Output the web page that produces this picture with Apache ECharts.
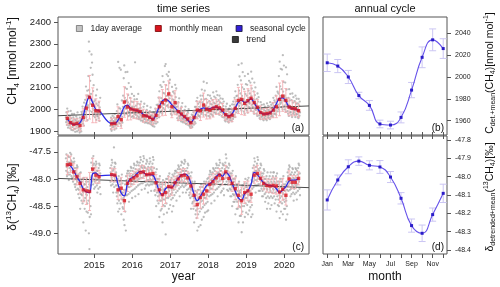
<!DOCTYPE html>
<html><head><meta charset="utf-8">
<script src="https://cdn.jsdelivr.net/npm/echarts@6/dist/echarts.min.js"></script>
<style>html,body{margin:0;padding:0;background:#fff}#c{width:500px;height:287px}</style>
</head><body><div id="c"></div>
<script>
// ---------- DATA ----------
// monthly series start at April 2014 (index 0) and run to May 2020
const startYear = 2014, startMonth = 4;
const yearTicks = [2015, 2016, 2017, 2018, 2019, 2020];
const ch4Ticks = [1900, 2000, 2100, 2200, 2300, 2400];
const d13Ticks = [-47.5, -48.0, -48.5, -49.0];
const annCH4Ticks = [1960, 1980, 2000, 2020, 2040];
const annD13Ticks = [-47.8, -47.9, -48.0, -48.1, -48.2, -48.3, -48.4];
const monthNames = ['Jan','Feb','Mar','Apr','May','Jun','Jul','Aug','Sep','Oct','Nov','Dec'];
const monthTicks = [1,2,3,4,5,6,7,8,9,10,11,12];
const monthLabelTicks = [1,3,5,7,9,11];

const ch4Mean = [
1958,1938,1931,1935,1925,1962,2005,2055,2018,
1993,1992,null,null,null,1933,1935,1966,1952,2033,2010,2001,
1997,1995,1989,1970,1969,1962,1954,1972,2011,2030,2042,2070,
2011,2030,1989,1978,1966,1955,1938,1962,1996,1993,2019,2000,
1996,2004,2011,2006,1996,1975,1966,1973,2004,2040,2045,2027,
2039,2050,2030,2009,1985,1978,1980,1983,1996,2011,2045,2060,
2040,2010,2004,2002,1993];
const ch4Err = [
30,25,25,22,25,40,60,100,80,
55,45,null,null,null,25,25,45,40,70,60,50,
40,40,35,30,25,25,25,30,45,60,70,60,
50,55,40,30,25,25,25,30,40,45,55,45,
40,40,35,30,30,25,25,30,40,60,70,55,
55,60,50,35,30,25,25,25,35,50,75,70,
55,40,35,30,30];
const ch4Seas = [
1956,1938,1930,1930,1938,1970,2025,2057,2030,
1998,1993,null,null,null,1935,1935,1950,1978,2012,2018,2003,
1997,1994,1988,1976,1968,1962,1953,1976,2012,2038,2045,2038,
2020,2006,1990,1976,1964,1950,1938,1960,1990,2000,2006,2001,
2003,2008,2010,2002,1990,1975,1968,1978,2005,2032,2042,2030,
2036,2048,2028,2005,1985,1978,1978,1983,1998,2025,2050,2052,
2036,2010,2004,2000,1995];
const trendYears = [2014.045, 2020.65];
const ch4Trend = [1970, 2015];

const d13Mean = [
-47.74,-47.73,-47.87,-47.96,-48.08,-48.20,-48.22,-48.23,-47.82,
-47.93,-47.96,null,null,null,-47.92,-47.93,-48.20,-48.17,-48.40,-48.08,-48.02,
-47.98,-47.94,-47.88,-47.87,-47.92,-47.91,-47.90,-48.07,-48.20,-48.29,-48.25,-48.14,
-48.15,-48.07,-48.00,-47.94,-47.93,-47.98,-48.13,-48.30,-48.47,-48.34,-48.28,-48.22,
-48.10,-48.05,-47.98,-47.93,-47.99,-47.87,-47.99,-48.08,-48.18,-48.30,-48.40,-48.25,
-48.22,-48.28,-47.93,-47.90,-47.99,-48.08,-48.12,-48.13,-48.12,-48.13,-48.24,-48.19,
-48.30,-48.00,-48.06,-48.06,-47.99];
const d13Err = [
0.18,0.15,0.15,0.15,0.18,0.22,0.25,0.35,0.20,
0.15,0.12,null,null,null,0.12,0.12,0.18,0.20,0.20,0.15,0.12,
0.12,0.12,0.12,0.12,0.12,0.12,0.12,0.15,0.20,0.22,0.20,0.18,
0.15,0.12,0.12,0.12,0.12,0.12,0.15,0.20,0.25,0.20,0.18,0.15,
0.15,0.15,0.12,0.12,0.12,0.12,0.12,0.15,0.20,0.22,0.25,0.20,
0.18,0.15,0.15,0.15,0.12,0.12,0.12,0.12,0.15,0.15,0.20,0.20,
0.18,0.15,0.12,0.12,0.12];
const d13Seas = [
-47.74,-47.76,-47.85,-47.96,-48.05,-48.18,-48.24,-48.25,-47.90,
-47.89,-47.94,null,null,null,-47.93,-47.93,-48.10,-48.26,-48.31,-48.08,-47.99,
-47.96,-47.90,-47.86,-47.88,-47.92,-47.92,-47.93,-48.05,-48.22,-48.30,-48.18,-48.15,
-48.16,-48.07,-47.99,-47.93,-47.91,-47.94,-48.08,-48.28,-48.40,-48.32,-48.22,-48.12,
-48.09,-48.03,-47.96,-47.91,-47.95,-47.88,-47.93,-48.08,-48.22,-48.35,-48.39,-48.27,
-48.22,-48.10,-47.88,-47.92,-48.00,-48.07,-48.11,-48.12,-48.13,-48.18,-48.25,-48.20,
-48.14,-48.04,-48.02,-48.02,-47.99];
const d13Trend = [-47.99, -48.16];

const ch4Daily = [
[1962,1940,1985,1951,1928,2003,1947,1972,1915,1990,1956,1935],
[1925,1952,1936,1969,1912,1946,1992,1931,1958,1905,1941,1978],
[1918,1934,1947,1903,1962,1924,1941,1978,1910,1952,1929,1896],
[1931,1911,1949,1966,1922,1939,1898,1957,1985,1927,1944,1915],
[1904,1931,1917,1944,1893,1961,1926,1936,1910,1952,1898,1988],
[1942,1981,1953,2012,1966,1933,1991,1949,1925,2030,1958,1975],
[1976,2043,2008,1988,2104,1963,2027,2062,1995,2085,1950,2018],
[2062,2152,2008,2310,2088,2265,1992,2051,2130,2025,2190,2070],
[2041,2251,1988,2214,2021,2158,2002,2083,1970,2110,2035,1995],
[1982,2012,1963,2042,1994,1973,2063,1951,2025,1985,2090,1968],
[1991,1968,2017,1983,1959,2031,1997,1946,2008,1975,2052,1988],
[],[],[],
[1924,1946,1909,1961,1931,1901,1952,1937,1918,1970,1928,1945],
[1936,1919,1962,1944,1906,1977,1929,1951,1925,1958,1940,1912],
[1952,1991,1929,2022,1964,1946,2217,1974,1938,2005,1958,2190],
[1959,1934,2002,1951,2181,1924,1976,1944,2040,1965,1938,1992],
[2011,2062,1989,2142,2028,2201,1974,2052,2098,2005,2170,2035],
[2002,2041,1979,2093,2013,2171,1988,2031,2065,1968,2120,2008],
[1989,2022,1973,2052,2006,1984,2102,1996,2035,1965,2070,2012],
[1984,2006,1968,2032,1996,1963,2061,2011,2045,1978,2215,1992],
[1991,1974,2016,1959,2001,2046,1984,1969,2025,1988,2070,1955],
[1981,1963,2002,1989,1954,2022,1974,2006,1948,2035,1992,1970],
[1961,1981,1948,1992,1944,1976,2011,1964,1955,2025,1972,1938],
[1954,1976,1944,1986,1966,1939,1997,1969,2015,1950,1982,1935],
[1951,1969,1938,1982,1959,1934,1991,1964,1945,2008,1972,1930],
[1941,1956,1929,1971,1946,1923,1967,1959,1985,1935,1962,1920],
[1954,1981,1944,2002,1966,1934,1992,1974,2020,1958,1985,1940],
[1991,2021,1973,2052,2001,1963,2082,2009,2035,1985,2110,2015],
[2011,2051,1993,2102,2031,1979,2152,2041,2075,2005,2125,2022],
[2021,2072,1998,2198,2046,1989,2207,2061,2110,2035,2160,2015],
[2041,2092,2019,2152,2061,2008,2171,2076,2120,2050,2135,2030],
[1996,2031,1979,2062,2011,1973,2102,2021,2045,1990,2080,2005],
[2001,2042,1984,2072,2019,1988,2112,2031,2055,2010,2095,2025],
[1976,1996,1959,2012,1984,1949,2032,1991,1968,2050,1985,1958],
[1966,1986,1949,2002,1974,1944,2012,1979,1958,2028,1970,1940],
[1954,1976,1944,1987,1964,1938,1997,1961,1950,2012,1970,1932],
[1946,1961,1934,1976,1954,1929,1986,1951,1942,2000,1960,1925],
[1931,1946,1919,1962,1934,1914,1952,1939,1925,1975,1945,1918],
[1946,1971,1934,1987,1959,1929,1992,1956,1942,2010,1965,1935],
[1981,2011,1964,2037,1994,1959,2052,1991,1975,2025,2000,1968],
[1986,2011,1969,2032,1996,1964,2062,2001,1978,2045,1990,2090],
[2001,2031,1984,2062,2011,1974,2126,2021,2045,1995,2085,2010],
[1991,2016,1974,2047,2001,1969,2120,2006,2030,1985,2065,1998],
[1986,2011,1969,2037,1994,1964,2062,2001,2025,1978,2050,1990],
[1991,2021,1974,2042,2006,1969,2077,2011,2030,1985,2058,1998],
[2001,2026,1984,2052,2011,1979,2082,2016,2035,1995,2065,2005],
[1996,2021,1979,2042,2004,1974,2062,2011,2030,1988,2050,1998],
[1986,2006,1969,2027,1994,1964,2047,2001,2015,1978,2035,1990],
[1961,1981,1949,1997,1969,1944,2012,1976,1990,1955,2025,1965],
[1956,1976,1944,1992,1964,1939,2002,1971,1985,1950,2015,1960],
[1961,1986,1949,2002,1974,1944,2022,1969,1995,1955,2035,1965],
[1991,2021,1974,2052,2004,1964,2082,2011,2035,1985,2060,1998],
[2021,2062,1999,2112,2041,1989,2203,2051,2085,2015,2150,2030],
[2026,2072,2004,2132,2051,1994,2210,2061,2100,2020,2170,2040],
[2006,2046,1989,2092,2026,1979,2152,2036,2070,2000,2115,2020],
[2016,2062,1994,2112,2041,1984,2162,2051,2085,2010,2130,2030],
[2026,2072,2004,2122,2051,1994,2172,2061,2095,2020,2140,2040],
[2011,2046,1989,2082,2031,1979,2122,2041,2065,2000,2100,2025],
[1996,2021,1979,2047,2004,1969,2072,2011,2035,1990,2055,2000],
[1971,1991,1959,2012,1981,1954,2032,1986,2000,1965,2020,1975],
[1966,1986,1954,2002,1976,1949,2022,1981,1995,1960,2012,1970],
[1969,1991,1954,2007,1981,1949,2027,1986,1998,1962,2015,1972],
[1971,1996,1959,2012,1986,1954,2032,1991,2005,1965,2020,1975],
[1981,2006,1969,2027,1996,1964,2052,2001,2015,1978,2040,1990],
[1996,2031,1979,2062,2011,1974,2102,2021,2045,1990,2080,2005],
[2021,2072,1999,2152,2046,1989,2218,2061,2105,2025,2185,2040],
[2031,2092,2009,2182,2061,1999,2248,2081,2125,2040,2200,2055],
[2016,2062,1999,2122,2041,1989,2192,2051,2090,2020,2160,2035],
[1991,2021,1979,2052,2006,1969,2092,2016,2040,1985,2070,2000],
[1986,2011,1974,2042,2001,1964,2072,2011,2030,1980,2055,1995],
[1986,2006,1974,2037,1996,1964,2062,2006,2025,1978,2048,1992],
[1976,2001,1964,2027,1991,1959,2047,1996,2015,1970,2035,1985]];

const d13Daily = [
[-47.62,-47.85,-47.55,-47.78,-47.95,-47.68,-47.72,-47.88,-47.58,-47.92,-47.70,-48.02],
[-47.60,-47.80,-47.70,-47.92,-47.52,-47.75,-47.85,-47.66,-47.55,-47.95,-47.68,-48.00],
[-47.75,-47.98,-47.82,-48.05,-47.70,-47.90,-47.62,-47.95,-47.68,-48.10,-47.80,-48.15],
[-47.85,-48.10,-47.90,-48.20,-47.80,-48.02,-47.75,-48.05,-47.78,-48.18,-47.92,-48.28],
[-47.95,-48.20,-48.02,-48.35,-47.90,-48.12,-48.55,-48.15,-47.88,-48.28,-48.05,-48.40],
[-48.05,-48.30,-48.15,-48.45,-48.00,-48.25,-48.80,-48.22,-47.98,-48.40,-48.10,-48.55],
[-48.10,-48.35,-48.18,-48.95,-48.05,-48.28,-48.60,-48.30,-48.00,-48.45,-48.15,-48.62],
[-48.05,-48.40,-48.20,-49.00,-48.10,-49.29,-48.70,-48.35,-47.98,-48.50,-48.12,-48.65],
[-47.70,-47.95,-47.80,-48.05,-47.62,-47.88,-47.75,-48.10,-47.58,-48.00,-47.72,-48.18],
[-47.80,-48.05,-47.88,-48.15,-47.75,-47.98,-47.68,-48.02,-47.72,-48.12,-47.85,-48.25],
[-47.85,-48.08,-47.92,-48.18,-47.80,-48.00,-47.72,-48.05,-47.75,-48.15,-47.90,-48.28],
[],[],[],
[-47.80,-48.05,-47.88,-48.12,-47.75,-47.98,-47.65,-48.02,-47.70,-48.10,-47.85,-48.25],
[-47.82,-48.05,-47.42,-48.15,-47.78,-47.98,-47.70,-48.02,-47.72,-48.12,-47.88,-48.25],
[-48.05,-48.32,-48.12,-48.45,-48.00,-48.25,-48.60,-48.20,-47.95,-48.40,-48.15,-48.55],
[-48.05,-48.30,-48.10,-48.45,-48.00,-48.22,-48.65,-48.25,-47.92,-48.38,-48.08,-48.52],
[-48.25,-48.55,-48.35,-48.75,-48.20,-48.45,-48.85,-48.40,-48.10,-48.60,-48.30,-48.95],
[-47.95,-48.20,-48.02,-48.30,-47.90,-48.12,-47.85,-48.15,-47.85,-48.28,-48.00,-48.42],
[-47.90,-48.15,-47.95,-48.25,-47.85,-48.08,-47.78,-48.10,-47.80,-48.22,-47.95,-48.35],
[-47.85,-48.10,-47.92,-48.20,-47.80,-48.02,-47.72,-48.05,-47.75,-48.18,-47.90,-48.32],
[-47.82,-48.05,-47.88,-48.15,-47.75,-47.98,-47.68,-48.02,-47.70,-48.12,-47.85,-48.28],
[-47.75,-48.00,-47.82,-48.10,-47.70,-47.92,-47.60,-47.98,-47.65,-48.08,-47.78,-48.20],
[-47.75,-47.98,-47.80,-48.08,-47.68,-47.90,-47.58,-47.95,-47.62,-48.05,-47.78,-48.18],
[-47.80,-48.05,-47.85,-48.12,-47.72,-47.95,-47.65,-48.02,-47.68,-48.10,-47.82,-48.25],
[-47.78,-48.02,-47.85,-48.12,-47.72,-47.95,-47.62,-48.00,-47.68,-48.10,-47.82,-48.22],
[-47.78,-48.02,-47.85,-48.10,-47.72,-47.95,-47.60,-48.00,-47.65,-48.08,-47.80,-48.22],
[-47.92,-48.20,-48.00,-48.30,-47.88,-48.10,-48.50,-48.15,-47.82,-48.25,-48.00,-48.40],
[-48.05,-48.32,-48.12,-48.45,-48.00,-48.25,-48.70,-48.30,-47.95,-48.40,-48.10,-48.58],
[-48.15,-48.40,-48.20,-48.55,-48.10,-48.35,-48.80,-48.38,-48.02,-48.48,-48.20,-48.65],
[-48.10,-48.38,-48.18,-48.50,-48.05,-48.30,-49.02,-48.35,-48.00,-48.45,-48.15,-48.62],
[-48.00,-48.25,-48.08,-48.35,-47.95,-48.18,-48.55,-48.22,-47.90,-48.32,-48.05,-48.48],
[-48.02,-48.28,-48.10,-48.38,-47.98,-48.20,-48.60,-48.25,-47.92,-48.35,-48.08,-48.50],
[-47.95,-48.20,-48.02,-48.30,-47.90,-48.12,-47.85,-48.15,-47.85,-48.25,-48.00,-48.40],
[-47.88,-48.12,-47.95,-48.22,-47.82,-48.05,-47.75,-48.08,-47.78,-48.18,-47.92,-48.32],
[-47.82,-48.05,-47.88,-48.15,-47.75,-47.98,-47.68,-48.02,-47.70,-48.12,-47.85,-48.25],
[-47.80,-48.05,-47.85,-48.15,-47.72,-47.98,-47.65,-48.00,-47.68,-48.12,-47.85,-48.25],
[-47.85,-48.10,-47.92,-48.20,-47.80,-48.02,-47.72,-48.05,-47.75,-48.18,-47.90,-48.30],
[-48.00,-48.25,-48.08,-48.35,-47.95,-48.18,-48.55,-48.20,-47.88,-48.32,-48.05,-48.45],
[-48.15,-48.42,-48.22,-48.55,-48.10,-48.35,-48.80,-48.40,-48.05,-48.50,-48.22,-48.65],
[-48.30,-48.58,-48.40,-48.72,-48.25,-48.50,-48.95,-48.55,-48.20,-48.65,-48.35,-48.88],
[-48.20,-48.45,-48.28,-48.60,-48.15,-48.38,-48.85,-48.42,-48.10,-48.55,-48.25,-48.75],
[-48.15,-48.40,-48.22,-48.52,-48.10,-48.32,-48.70,-48.35,-48.05,-48.48,-48.20,-48.62],
[-48.10,-48.35,-48.15,-48.45,-48.05,-48.28,-48.60,-48.30,-48.00,-48.42,-48.12,-48.58],
[-47.98,-48.22,-48.05,-48.32,-47.92,-48.15,-47.85,-48.18,-47.88,-48.30,-48.02,-48.45],
[-47.92,-48.18,-48.00,-48.28,-47.88,-48.10,-47.80,-48.12,-47.82,-48.25,-47.98,-48.40],
[-47.85,-48.10,-47.92,-48.20,-47.80,-48.02,-47.72,-48.05,-47.75,-48.18,-47.90,-48.32],
[-47.80,-48.05,-47.88,-48.15,-47.75,-47.98,-47.65,-48.02,-47.70,-48.12,-47.85,-48.25],
[-47.85,-48.10,-47.92,-48.22,-47.80,-48.02,-47.72,-48.05,-47.75,-48.18,-47.90,-48.30],
[-47.75,-48.00,-47.82,-48.10,-47.70,-47.92,-47.55,-47.98,-47.62,-48.05,-47.78,-48.20],
[-47.85,-48.10,-47.92,-48.22,-47.80,-48.02,-47.72,-48.05,-47.75,-48.18,-47.90,-48.32],
[-47.95,-48.20,-48.02,-48.32,-47.90,-48.12,-48.50,-48.15,-47.85,-48.28,-48.00,-48.42],
[-48.05,-48.30,-48.12,-48.42,-48.00,-48.22,-48.65,-48.28,-47.95,-48.38,-48.10,-48.55],
[-48.15,-48.42,-48.22,-48.55,-48.10,-48.35,-48.80,-48.40,-48.05,-48.50,-48.22,-48.68],
[-48.25,-48.52,-48.32,-48.68,-48.20,-48.45,-48.98,-48.50,-48.12,-48.60,-48.30,-48.80],
[-48.12,-48.38,-48.18,-48.50,-48.08,-48.30,-48.70,-48.35,-48.00,-48.45,-48.15,-48.62],
[-48.08,-48.35,-48.15,-48.48,-48.02,-48.28,-48.65,-48.30,-47.98,-48.42,-48.12,-48.58],
[-48.15,-48.40,-48.22,-48.52,-48.10,-48.32,-48.70,-48.35,-48.02,-48.48,-48.18,-48.65],
[-47.80,-48.05,-47.88,-48.15,-47.75,-47.98,-47.62,-48.02,-47.68,-48.12,-47.85,-48.25],
[-47.78,-48.02,-47.85,-48.12,-47.72,-47.95,-47.60,-48.00,-47.65,-48.10,-47.82,-48.22],
[-47.85,-48.10,-47.92,-48.22,-47.80,-48.02,-47.72,-48.05,-47.75,-48.18,-47.90,-48.32],
[-47.95,-48.22,-48.02,-48.32,-47.90,-48.12,-47.82,-48.18,-47.85,-48.28,-48.00,-48.42],
[-48.00,-48.25,-48.08,-48.35,-47.95,-48.18,-48.55,-48.20,-47.88,-48.32,-48.05,-48.45],
[-48.00,-48.25,-48.08,-48.35,-47.95,-48.18,-48.55,-48.22,-47.88,-48.32,-48.05,-48.48],
[-48.00,-48.25,-48.08,-48.35,-47.95,-48.18,-47.88,-48.20,-47.88,-48.32,-48.05,-48.45],
[-48.00,-48.25,-48.08,-48.38,-47.95,-48.18,-48.60,-48.22,-47.90,-48.32,-48.05,-48.48],
[-48.10,-48.38,-48.18,-48.50,-48.05,-48.30,-48.72,-48.35,-48.00,-48.42,-48.15,-48.60],
[-48.05,-48.32,-48.12,-48.45,-48.00,-48.25,-48.65,-48.28,-47.95,-48.38,-48.10,-48.55],
[-48.15,-48.42,-48.22,-48.55,-48.10,-48.35,-48.75,-48.40,-48.05,-48.50,-48.20,-48.65],
[-47.88,-48.12,-47.95,-48.22,-47.82,-48.05,-47.75,-48.08,-47.78,-48.20,-47.92,-48.32],
[-47.92,-48.18,-48.00,-48.28,-47.88,-48.10,-47.80,-48.12,-47.82,-48.25,-47.98,-48.40],
[-47.92,-48.18,-48.00,-48.28,-47.88,-48.10,-47.80,-48.12,-47.82,-48.25,-47.98,-48.38],
[-47.85,-48.10,-47.92,-48.22,-47.80,-48.02,-47.72,-48.05,-47.75,-48.18,-47.90,-48.30]];

const annCH4 = [2013,2010,2000,1983,1974,1957,1956,1963,1988,2018,2034,2026];
const annCH4Err = [8,6,6,3,4.5,3.5,3.5,5,7,9.5,10,9];
const annD13 = [-48.127,-48.018,-47.946,-47.915,-47.938,-47.947,-48.002,-48.118,-48.267,-48.309,-48.207,-48.091];
const annD13Err = [0.055,0.027,0.038,0.023,0.025,0.035,0.03,0.031,0.036,0.045,0.036,0.05];

// ---------- BUILD ----------
const monthPos = i => startYear + (startMonth - 1 + i + 0.5) / 12;
const dayPos = (i, k, n) => startYear + (startMonth - 1 + i + (k + 0.5) / n) / 12;

function dailyPts(arr) {
  const out = [];
  arr.forEach((m, i) => m.forEach((v, k) => out.push([dayPos(i, k, m.length), v])));
  return out;
}
function monthPts(vals) {
  const out = [];
  vals.forEach((v, i) => { if (v !== null) out.push([monthPos(i), v]); });
  return out;
}
function errPts(vals, errs) {
  const out = [];
  vals.forEach((v, i) => { if (v !== null) out.push([monthPos(i), v, errs[i]]); });
  return out;
}
function errRender(color, cap, lw) {
  return function (params, api) {
    const x = api.value(0), y = api.value(1), e = api.value(2);
    const t = api.coord([x, y + e]), b = api.coord([x, y - e]);
    const st = { stroke: color, lineWidth: lw };
    return { type: 'group', children: [
      { type: 'line', shape: { x1: t[0], y1: t[1], x2: b[0], y2: b[1] }, style: st },
      { type: 'line', shape: { x1: t[0] - cap, y1: t[1], x2: t[0] + cap, y2: t[1] }, style: st },
      { type: 'line', shape: { x1: b[0] - cap, y1: b[1], x2: b[0] + cap, y2: b[1] }, style: st }
    ]};
  };
}

const FONT = 'Liberation Sans, Arial, sans-serif';
const axisCol = '#555';
const tick = vals => ({ show: true, inside: false, length: 4, customValues: vals, lineStyle: { color: axisCol, width: 1 } });
function xAx(grid, pos, min, max, ticks, labels, fmt, fs, margin) {
  return { type: 'value', gridIndex: grid, position: pos, min: min, max: max,
    axisLine: { show: false }, splitLine: { show: false },
    axisTick: tick(ticks),
    axisLabel: labels ? { show: true, customValues: labels, formatter: fmt, fontSize: fs, color: '#222', fontFamily: FONT, margin: margin } : { show: false } };
}
function yAx(grid, pos, min, max, ticks, fmt, fs, margin) {
  return { type: 'value', gridIndex: grid, position: pos, min: min, max: max,
    axisLine: { show: false }, splitLine: { show: false },
    axisTick: tick(ticks),
    axisLabel: { show: true, customValues: ticks, formatter: fmt, fontSize: fs, color: '#222', fontFamily: FONT, margin: margin } };
}

const grayC = '#ababab', redC = '#d8141e', pinkC = '#f5b0b4', blueC = '#2a2ae6', trendC = '#4a4a4a';
const annLineC = '#6652ea', annPtC = '#2a1cc8', annErrC = '#cbc6f3';

const xmin = 2014.045, xmax = 2020.65;
const yr = v => String(Math.round(v));
const mfmt = v => monthNames[Math.round(v) - 1];

const rich = {
  n: { fontSize: 12, lineHeight: 16, fontFamily: FONT, color: '#111' },
  sub: { fontSize: 8, lineHeight: 9, verticalAlign: 'bottom', fontFamily: FONT, color: '#111' },
  sup: { fontSize: 8, lineHeight: 9, verticalAlign: 'top', fontFamily: FONT, color: '#111' },
  rn: { fontSize: 10.5, lineHeight: 14, fontFamily: FONT, color: '#111' },
  rsub: { fontSize: 7, lineHeight: 8, verticalAlign: 'bottom', fontFamily: FONT, color: '#111' },
  rsup: { fontSize: 7, lineHeight: 8, verticalAlign: 'top', fontFamily: FONT, color: '#111' }
};
function rotText(x, y, text) {
  return { type: 'text', x: x, y: y, rotation: Math.PI / 2,
    style: { text: text, rich: rich, align: 'center', verticalAlign: 'middle', fill: '#111', font: '12px ' + FONT } };
}
function plainText(x, y, text, fs, align) {
  return { type: 'text', x: x, y: y,
    style: { text: text, align: align || 'center', verticalAlign: 'middle', fill: '#111', font: fs + 'px ' + FONT } };
}

const option = {
  animation: false,
  grid: [
    { left: 58, top: 17, width: 251, height: 118, show: true, borderColor: axisCol, borderWidth: 1, backgroundColor: 'transparent' },
    { left: 58, top: 136, width: 251, height: 118, show: true, borderColor: axisCol, borderWidth: 1, backgroundColor: 'transparent' },
    { left: 323, top: 17, width: 124, height: 118, show: true, borderColor: axisCol, borderWidth: 1, backgroundColor: 'transparent' },
    { left: 323, top: 136, width: 124, height: 118, show: true, borderColor: axisCol, borderWidth: 1, backgroundColor: 'transparent' }
  ],
  xAxis: [
    xAx(0, 'bottom', xmin, xmax, yearTicks, null),
    xAx(1, 'bottom', xmin, xmax, yearTicks, yearTicks, yr, 9.5, 6),
    xAx(1, 'top', xmin, xmax, yearTicks, null),
    xAx(2, 'bottom', 0.6, 12.36, monthTicks, null),
    xAx(3, 'bottom', 0.6, 12.36, monthTicks, monthLabelTicks, mfmt, 7, 7),
    xAx(3, 'top', 0.6, 12.36, monthTicks, null)
  ],
  yAxis: [
    yAx(0, 'left', 1881.6, 2423, ch4Ticks, yr, 9.5, 7),
    yAx(1, 'left', -49.38, -47.21, d13Ticks, v => v.toFixed(1), 9.5, 7),
    yAx(2, 'right', 1946.9, 2054.9, annCH4Ticks, yr, 7, 8),
    yAx(3, 'right', -48.422, -47.778, annD13Ticks, v => v.toFixed(1), 7, 8)
  ],
  legend: [
    { left: 76, top: 24, icon: 'rect', itemWidth: 6, itemHeight: 6, itemGap: 13, padding: 0,
      textStyle: { fontSize: 8.5, fontFamily: FONT, color: '#222', padding: [0, 0, 0, 3] },
      data: [
        { name: '1day average', itemStyle: { color: '#b5b5b5', borderColor: '#555', borderWidth: 0.8 } },
        { name: 'monthly mean', itemStyle: { color: redC, borderColor: '#700', borderWidth: 0.8 } },
        { name: 'seasonal cycle', itemStyle: { color: '#3320d8', borderColor: '#113', borderWidth: 0.8 } }
      ] },
    { left: 232, top: 35, icon: 'rect', itemWidth: 6, itemHeight: 6, padding: 0,
      textStyle: { fontSize: 8.5, fontFamily: FONT, color: '#222', padding: [0, 0, 0, 3] },
      data: [{ name: 'trend', itemStyle: { color: '#3a3a3a', borderColor: '#111', borderWidth: 0.8 } }] }
  ],
  graphic: [
    plainText(183.5, 9, 'time series', 11),
    plainText(385, 9, 'annual cycle', 11),
    plainText(183.5, 277, 'year', 12),
    plainText(385, 277, 'month', 12),
    plainText(304, 128, '(a)', 10, 'right'),
    plainText(444, 128, '(b)', 10, 'right'),
    plainText(304, 247, '(c)', 10, 'right'),
    plainText(444, 247, '(d)', 10, 'right'),
    rotText(13, 61, '{n|CH}{sub|4}{n| [nmol mol}{sup|-1}{n|]}'),
    rotText(13, 197, '{n|δ(}{sup|13}{n|CH}{sub|4}{n|) [‰]}'),
    rotText(490, 73, '{rn|C}{rsub|det.+mean}{rn|(CH}{rsub|4}{rn|)[nmol mol}{rsup|-1}{rn|]}'),
    rotText(490, 197, '{rn|δ}{rsub|detrended+mean}{rn|(}{rsup|13}{rn|CH}{rsub|4}{rn|)[‰]}')
  ],
  series: [
    // panel (a)
    { name: '1day average', type: 'scatter', xAxisIndex: 0, yAxisIndex: 0, symbol: 'circle', symbolSize: 2.3,
      itemStyle: { color: grayC }, data: dailyPts(ch4Daily), z: 1 },
    { name: 'trend', type: 'line', xAxisIndex: 0, yAxisIndex: 0, showSymbol: false, symbol: 'none',
      lineStyle: { color: trendC, width: 1 }, data: trendYears.map((x, i) => [x, ch4Trend[i]]), z: 2 },
    { name: 'monthly mean', type: 'custom', xAxisIndex: 0, yAxisIndex: 0, renderItem: errRender(pinkC, 1.5, 0.9),
      dimensions: ['x', 'y', 'e'], encode: { x: 0, y: 1 }, data: errPts(ch4Mean, ch4Err), z: 3 },
    { name: 'seasonal cycle', type: 'line', xAxisIndex: 0, yAxisIndex: 0, smooth: 0.4, showSymbol: false, symbol: 'none',
      lineStyle: { color: blueC, width: 1.3 }, data: monthPts(ch4Seas), z: 4 },
    { name: 'monthly mean', type: 'scatter', xAxisIndex: 0, yAxisIndex: 0, symbol: 'rect', symbolSize: 3.4,
      itemStyle: { color: redC }, data: monthPts(ch4Mean), z: 5 },
    // panel (c)
    { name: '1day average', type: 'scatter', xAxisIndex: 1, yAxisIndex: 1, symbol: 'circle', symbolSize: 2.3,
      itemStyle: { color: grayC }, data: dailyPts(d13Daily), z: 1 },
    { name: 'trend', type: 'line', xAxisIndex: 1, yAxisIndex: 1, showSymbol: false, symbol: 'none',
      lineStyle: { color: trendC, width: 1 }, data: trendYears.map((x, i) => [x, d13Trend[i]]), z: 2 },
    { name: 'monthly mean', type: 'custom', xAxisIndex: 1, yAxisIndex: 1, renderItem: errRender(pinkC, 1.5, 0.9),
      dimensions: ['x', 'y', 'e'], encode: { x: 0, y: 1 }, data: errPts(d13Mean, d13Err), z: 3 },
    { name: 'seasonal cycle', type: 'line', xAxisIndex: 1, yAxisIndex: 1, smooth: 0.4, showSymbol: false, symbol: 'none',
      lineStyle: { color: blueC, width: 1.3 }, data: monthPts(d13Seas), z: 4 },
    { name: 'monthly mean', type: 'scatter', xAxisIndex: 1, yAxisIndex: 1, symbol: 'rect', symbolSize: 3.4,
      itemStyle: { color: redC }, data: monthPts(d13Mean), z: 5 },
    // panel (b)
    { name: 'annCH4err', type: 'custom', xAxisIndex: 3, yAxisIndex: 2, renderItem: errRender(annErrC, 3.5, 1),
      dimensions: ['x', 'y', 'e'], encode: { x: 0, y: 1 }, data: annCH4.map((v, i) => [monthTicks[i], v, annCH4Err[i]]) },
    { name: 'annCH4', type: 'line', xAxisIndex: 3, yAxisIndex: 2, smooth: 0.5, symbol: 'rect', symbolSize: 3, showSymbol: true,
      lineStyle: { color: annLineC, width: 1.1 }, itemStyle: { color: annPtC }, data: annCH4.map((v, i) => [monthTicks[i], v]) },
    // panel (d)
    { name: 'annD13err', type: 'custom', xAxisIndex: 4, yAxisIndex: 3, renderItem: errRender(annErrC, 3.5, 1),
      dimensions: ['x', 'y', 'e'], encode: { x: 0, y: 1 }, data: annD13.map((v, i) => [monthTicks[i], v, annD13Err[i]]) },
    { name: 'annD13', type: 'line', xAxisIndex: 4, yAxisIndex: 3, smooth: 0.5, symbol: 'rect', symbolSize: 3, showSymbol: true,
      lineStyle: { color: annLineC, width: 1.1 }, itemStyle: { color: annPtC }, data: annD13.map((v, i) => [monthTicks[i], v]) }
  ]
};
const chart = echarts.init(document.getElementById('c'), null, { renderer: 'canvas' });
chart.setOption(option);
</script></body></html>
